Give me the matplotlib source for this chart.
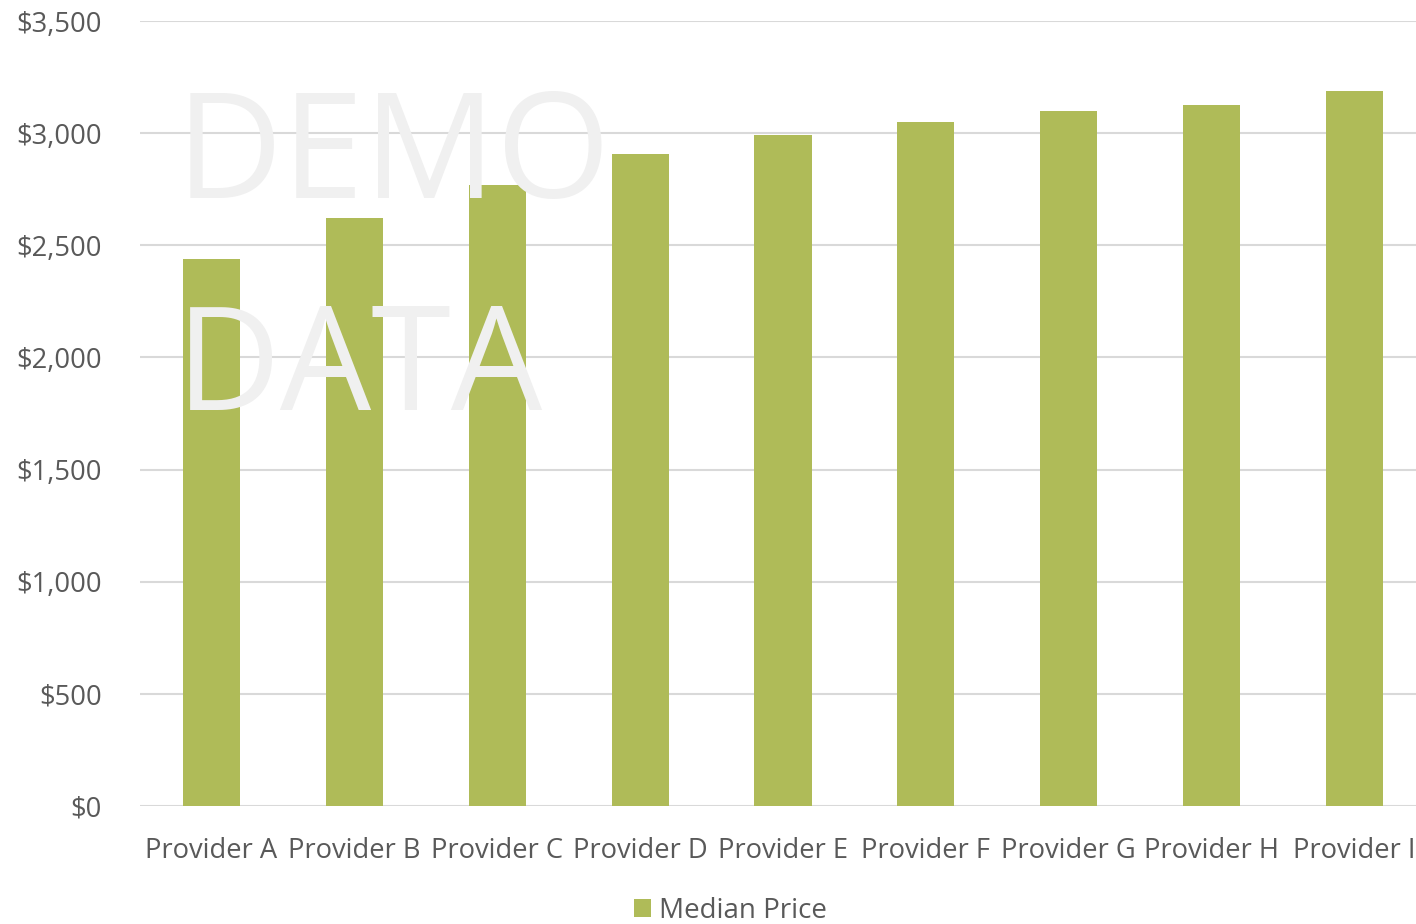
import matplotlib.pyplot as plt
import numpy as np
from matplotlib.ticker import FuncFormatter

providers = ["Provider A", "Provider B", "Provider C", "Provider D", "Provider E",
             "Provider F", "Provider G", "Provider H", "Provider I"]
median_price = [2440, 2622, 2770, 2908, 2993, 3050, 3100, 3126, 3188]

plt.rcParams['font.family'] = ['Open Sans', 'DejaVu Sans']

fig = plt.figure(figsize=(14.16, 9.24), dpi=100)
ax = fig.add_axes([140 / 1416, 1 - 806 / 924, 1286 / 1416, 785 / 924])

x = np.arange(len(providers))
ax.bar(x, median_price, width=0.4, color="#afbb58", label="Median Price", zorder=2)

ax.set_ylim(0, 3500)
ax.set_xlim(-0.5, len(providers) - 0.5)
ax.set_yticks(np.arange(0, 3501, 500))
ax.yaxis.set_major_formatter(FuncFormatter(lambda v, p: f"${v:,.0f}"))
ax.set_xticks(x)
ax.set_xticklabels(providers)
ax.tick_params(axis="both", length=0, labelsize=19.7, colors="#595959")
ax.tick_params(axis="y", pad=27.5)
ax.tick_params(axis="x", pad=22)
ax.grid(axis="y", color="#d9d9d9", linewidth=1.5, zorder=0)
for s in ax.spines.values():
    s.set_visible(False)

# watermark
fig.text(176 / 1416, 1 - 198 / 924, "DEMO", fontsize=106, color="#f0f0f0",
         ha="left", va="baseline", zorder=5)
fig.text(176 / 1416, 1 - 410 / 924, "DATA", fontsize=104, color="#f0f0f0",
         ha="left", va="baseline", zorder=5)

fig.legend(loc="lower center", bbox_to_anchor=(0.516, -0.028), frameon=False,
           fontsize=20, labelcolor="#595959", handlelength=0.6, handleheight=0.6,
           handletextpad=0.3)

fig.savefig("out.png", dpi=100)
